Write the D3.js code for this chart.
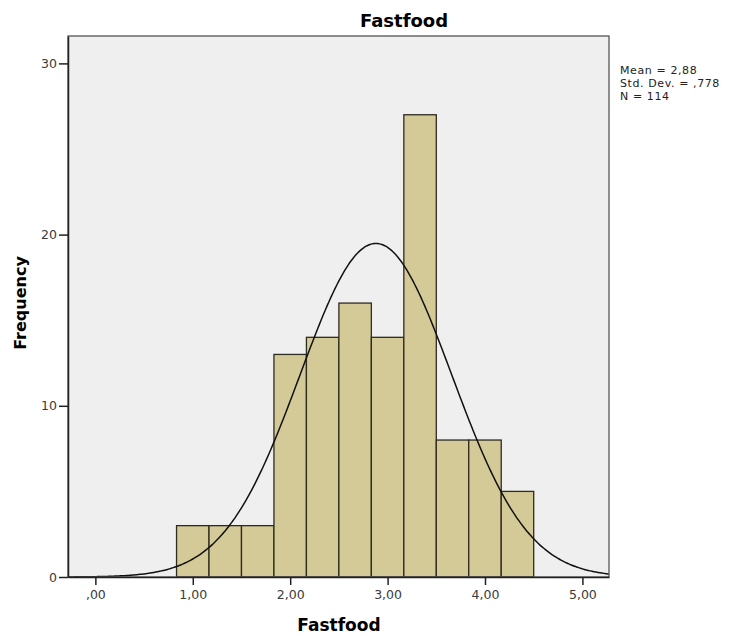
<!DOCTYPE html>
<html lang="en">
<head>
<meta charset="UTF-8">
<title>Fastfood</title>
<script src="https://cdn.jsdelivr.net/npm/d3@7"></script>
<style>
  body { margin: 0; background: #fff; }
  text { font-family: "DejaVu Sans", sans-serif; }
</style>
</head>
<body>
<div id="chart"></div>
<script>
// histogram data
var binStarts = [0.8333, 1.1667, 1.5, 1.8333, 2.1667, 2.5, 2.8333, 3.1667, 3.5, 3.8333, 4.1667];
var binWidth = 1 / 3;
var counts = [3, 3, 3, 13, 14, 16, 14, 27, 8, 8, 5];
var xTicks = [0, 1, 2, 3, 4, 5];
var xTickLabels = [",00", "1,00", "2,00", "3,00", "4,00", "5,00"];
var yTicks = [0, 10, 20, 30];
var statLines = ["Mean = 2,88", "Std. Dev. = ,778", "N = 114"];
var mean = 2.88, sd = 0.778, n = 114;

var width = 734, height = 636;
var margin = { left: 68, top: 36, right: 125, bottom: 59 };

var svg = d3.select("#chart").append("svg")
  .attr("width", width)
  .attr("height", height);

var x = d3.scaleLinear().domain([-0.281, 5.273]).range([margin.left, width - margin.right]);
var y = d3.scaleLinear().domain([0, 31.6]).range([height - margin.bottom, margin.top]);

// plot background
svg.append("rect")
  .attr("x", x.range()[0]).attr("y", y.range()[1])
  .attr("width", x.range()[1] - x.range()[0])
  .attr("height", y.range()[0] - y.range()[1])
  .attr("fill", "#efefef");

svg.append("clipPath").attr("id", "plotclip").append("rect")
  .attr("x", x.range()[0]).attr("y", y.range()[1])
  .attr("width", x.range()[1] - x.range()[0])
  .attr("height", y.range()[0] - y.range()[1]);

// bars
svg.append("g").selectAll("rect")
  .data(counts)
  .enter().append("rect")
    .attr("x", function(d, i) { return x(binStarts[i]); })
    .attr("y", function(d) { return y(d); })
    .attr("width", function(d, i) { return x(binStarts[i] + binWidth) - x(binStarts[i]); })
    .attr("height", function(d) { return y(0) - y(d); })
    .attr("fill", "#d4ca98")
    .attr("stroke", "#2e2b1f")
    .attr("stroke-width", 1.3);

// normal curve
var xs = d3.range(-0.3, 5.3, 0.02);
var scale = n * binWidth / (sd * Math.sqrt(2 * Math.PI));
var line = d3.line()
  .x(function(d) { return x(d); })
  .y(function(d) { return y(scale * Math.exp(-0.5 * Math.pow((d - mean) / sd, 2))); })
  .curve(d3.curveBasis);
svg.append("path")
  .datum(xs)
  .attr("clip-path", "url(#plotclip)")
  .attr("d", line)
  .attr("fill", "none")
  .attr("stroke", "#111")
  .attr("stroke-width", 1.5);

// plot frame
svg.append("rect")
  .attr("x", x.range()[0]).attr("y", y.range()[1])
  .attr("width", x.range()[1] - x.range()[0])
  .attr("height", y.range()[0] - y.range()[1])
  .attr("fill", "none")
  .attr("stroke", "#555")
  .attr("stroke-width", 1.3);

// axes
var yAxis = d3.axisLeft(y).tickValues(yTicks).tickSize(9).tickSizeOuter(0).tickPadding(2)
  .tickFormat(d3.format("d"));
var gy = svg.append("g").attr("transform", "translate(" + x.range()[0] + ",0)").call(yAxis);
var xAxis = d3.axisBottom(x).tickValues(xTicks).tickSize(8).tickSizeOuter(0).tickPadding(5)
  .tickFormat(function(d, i) { return xTickLabels[i]; });
var gx = svg.append("g").attr("transform", "translate(0," + y.range()[0] + ")").call(xAxis);

[gx, gy].forEach(function(g) {
  g.select(".domain").attr("stroke", "#222").attr("stroke-width", 1.5);
  g.selectAll(".tick line").attr("stroke", "#222").attr("stroke-width", 1.5);
  g.selectAll(".tick text").attr("fill", "#3a3a3a").style("font-size", "12.5px")
    .style("font-family", "'DejaVu Sans', sans-serif");
});

// titles
svg.append("text")
  .attr("x", 404).attr("y", 27)
  .attr("text-anchor", "middle")
  .style("font-size", "18px").style("font-weight", "bold")
  .text("Fastfood");

svg.append("text")
  .attr("x", 339).attr("y", 631)
  .attr("text-anchor", "middle")
  .style("font-size", "17px").style("font-weight", "bold")
  .text("Fastfood");

svg.append("text")
  .attr("transform", "translate(26,303) rotate(-90)")
  .attr("text-anchor", "middle")
  .style("font-size", "16px").style("font-weight", "bold")
  .text("Frequency");

// stats box
svg.append("g").selectAll("text")
  .data(statLines)
  .enter().append("text")
    .attr("x", 620)
    .attr("y", function(d, i) { return 74 + i * 13; })
    .attr("fill", "#222")
    .style("font-size", "11px")
    .style("letter-spacing", "0.6px")
    .text(function(d) { return d; });
</script>
</body>
</html>
